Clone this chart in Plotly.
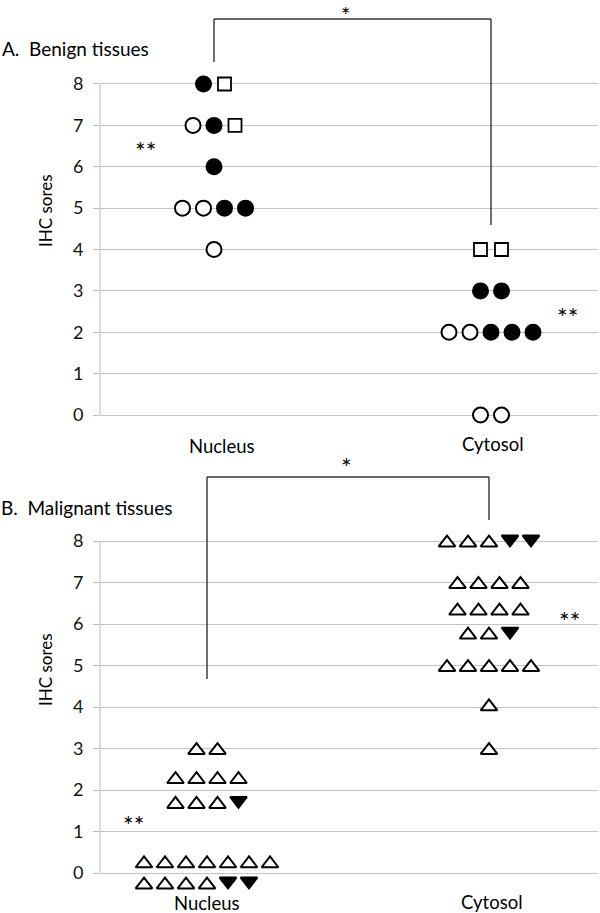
import plotly.graph_objects as go

W, H = 600, 913

# ---------------- data ----------------
# marker codes: 'o' open circle, 'f' filled circle, 's' open square,
#               't' open triangle-up, 'v' filled triangle-down, '_' empty slot
categories = ["Nucleus", "Cytosol"]
y_ticks = [0, 1, 2, 3, 4, 5, 6, 7, 8]

benign_nucleus_scores = [8, 7, 6, 5, 4]
benign_nucleus_rows = ["fs", "ofs", "f", "ooff", "o"]
benign_cytosol_scores = [4, 3, 2, 0]
benign_cytosol_rows = ["ss", "ff", "oofff", "oo"]

malignant_nucleus_scores = [3, 2.3, 1.7, 0.27, -0.24]
malignant_nucleus_rows = ["tt", "tttt", "tttv", "ttttttt", "ttttvv_"]
malignant_cytosol_scores = [8, 7, 6.36, 5.78, 5, 4.05, 3]
malignant_cytosol_rows = ["tttvv", "tttt", "tttt", "ttv", "ttttt", "t", "t"]

panel_titles = ["A.\u00a0 Benign tissues", "B.\u00a0 Malignant tissues"]
y_title = "IHC sores"

# ---------------- layout geometry ----------------
FONT = "Lato"
GRID = "#c4c4c4"
AXIS = "#b8b8b8"
XDOM = [100 / W, 598 / W]
YR = [0, 8]           # score range covered by the axis line
PAD = 0.6            # extra range so markers outside 0..8 are still drawn
YRP = [YR[0] - PAD, YR[1] + PAD]
# pixel rows of the 8-line and 0-line in each panel
PANEL_A_PX = (84, 415)
PANEL_B_PX = (541, 873)
XR_A = [1 - 114 / 277, 2 + 107 / 277]
XR_B = [1 - 107 / 282, 2 + 109 / 282]
SLOT_PX = 21


def ydomain(px_top, px_bottom):
    ppu = (px_bottom - px_top) / (YR[1] - YR[0])
    top = px_top - PAD * ppu
    bot = px_bottom + PAD * ppu
    return [1 - bot / H, 1 - top / H], ppu


YDOM_A, PPU_A = ydomain(*PANEL_A_PX)
YDOM_B, PPU_B = ydomain(*PANEL_B_PX)

STYLE = {
    "o": dict(symbol="circle", size=15, color="white", line=dict(color="black", width=2)),
    "f": dict(symbol="circle", size=15, color="black", line=dict(color="black", width=2)),
    "s": dict(symbol="square", size=13, color="white", line=dict(color="black", width=1.8)),
    "t": dict(symbol="triangle-up", size=14.5, color="white", line=dict(color="black", width=2)),
    "v": dict(symbol="triangle-down", size=14.5, color="black", line=dict(color="black", width=2)),
}


def px_per_unit_x(xr):
    return (XDOM[1] - XDOM[0]) * W / (xr[1] - xr[0])


def build_points(center, scores, rows, xr, ppu):
    slot = SLOT_PX / px_per_unit_x(xr)
    pts = {k: ([], []) for k in STYLE}
    for score, row in zip(scores, rows):
        n = len(row)
        for i, code in enumerate(row):
            if code == "_":
                continue
            x = center + (i - (n - 1) / 2) * slot
            y = score
            # plotly triangles are not centred on their point: compensate r/4
            r = STYLE[code]["size"] / 2
            if code == "t":
                y = score - (r / 4) / ppu
            elif code == "v":
                y = score + (r / 4) / ppu
            pts[code][0].append(x)
            pts[code][1].append(y)
    return pts


fig = go.Figure()


def add_panel(groups, xr, ppu, xa, ya):
    merged = {k: ([], []) for k in STYLE}
    for center, scores, rows in groups:
        p = build_points(center, scores, rows, xr, ppu)
        for k in STYLE:
            merged[k][0].extend(p[k][0])
            merged[k][1].extend(p[k][1])
    for k, st in STYLE.items():
        if not merged[k][0]:
            continue
        fig.add_trace(go.Scatter(
            x=merged[k][0], y=merged[k][1], mode="markers",
            marker=st, xaxis=xa, yaxis=ya, cliponaxis=False,
            showlegend=False, hoverinfo="skip"))


add_panel([(1, benign_nucleus_scores, benign_nucleus_rows),
           (2, benign_cytosol_scores, benign_cytosol_rows)], XR_A, PPU_A, "x", "y")
add_panel([(1, malignant_nucleus_scores, malignant_nucleus_rows),
           (2, malignant_cytosol_scores, malignant_cytosol_rows)], XR_B, PPU_B, "x2", "y2")

yaxis_common = dict(
    range=YRP, tickvals=y_ticks, showgrid=True, gridcolor=GRID, gridwidth=1,
    zeroline=False, showline=False,
    ticks="outside", ticklen=6, tickcolor=AXIS, ticklabelstandoff=6,
    tickfont=dict(family=FONT, size=18, color="#111111"), fixedrange=True)
xaxis_common = dict(showgrid=False, zeroline=False, showline=False,
                    showticklabels=False, ticks="", domain=XDOM, fixedrange=True)

fig.update_layout(
    width=W, height=H, margin=dict(l=0, r=0, t=0, b=0),
    paper_bgcolor="white", plot_bgcolor="white",
    xaxis=dict(xaxis_common, range=XR_A, anchor="y"),
    yaxis=dict(yaxis_common, domain=YDOM_A, anchor="x"),
    xaxis2=dict(xaxis_common, range=XR_B, anchor="y2"),
    yaxis2=dict(yaxis_common, domain=YDOM_B, anchor="x2"),
)


def px_x(px):
    return px / W


def px_y(py):
    return 1 - py / H


def data_x_to_paper(x, xr):
    return XDOM[0] + (x - xr[0]) / (xr[1] - xr[0]) * (XDOM[1] - XDOM[0])


ann = []


def text(px, py, s, size=18, xanchor="center", angle=0, height=None):
    a = dict(x=px_x(px), y=px_y(py), xref="paper", yref="paper", text=s,
             showarrow=False, xanchor=xanchor, yanchor="middle", textangle=angle,
             font=dict(family=FONT, size=size, color="black"))
    if height is not None:
        a["height"] = height
    ann.append(a)


# panel titles
text(0, 49, panel_titles[0], size=19, xanchor="left")
text(-1, 507, panel_titles[1], size=19, xanchor="left")
# y-axis titles
text(45, 211, y_title, size=17, angle=-90)
text(45, 670, y_title, size=17, angle=-90)
# category labels
text(222, 446, categories[0], size=18.5)
text(493, 444, categories[1], size=18.5)
text(207, 903, categories[0], size=18.5)
text(492, 902, categories[1], size=18.5)


# significance marks: the asterisk glyph sits ~4px above the line-box centre
def star(cx, cy, s, size=25):
    text(cx, cy + size * 0.16, s, size=size, height=18)


star(345, 10, "*", size=22)   # kept just inside the top edge
star(346, 463, "*")
star(145, 147, "**")
star(567, 313, "**")
star(133, 821, "**")
star(569, 617, "**")

fig.update_layout(annotations=ann)

shapes = []
# y-axis lines spanning 0..8 only
for px_top, px_bot in (PANEL_A_PX, PANEL_B_PX):
    shapes.append(dict(type="line", xref="paper", yref="paper", x0=XDOM[0], x1=XDOM[0],
                       y0=px_y(px_top), y1=px_y(px_bot), line=dict(color=AXIS, width=1)))
# significance brackets
for xr, top, left_end, right_end in [(XR_A, 19, 62, 225), (XR_B, 477, 679, 520)]:
    xl = data_x_to_paper(1, xr)
    xrr = data_x_to_paper(2, xr)
    line = dict(color="#333333", width=1.4)
    shapes.append(dict(type="line", xref="paper", yref="paper", x0=xl, x1=xrr,
                       y0=px_y(top), y1=px_y(top), line=line))
    shapes.append(dict(type="line", xref="paper", yref="paper", x0=xl, x1=xl,
                       y0=px_y(top), y1=px_y(left_end), line=line))
    shapes.append(dict(type="line", xref="paper", yref="paper", x0=xrr, x1=xrr,
                       y0=px_y(top), y1=px_y(right_end), line=line))
fig.update_layout(shapes=shapes)

fig.write_html("out.html", config={"displayModeBar": False},
               post_script="document.body.style.margin='0';")
